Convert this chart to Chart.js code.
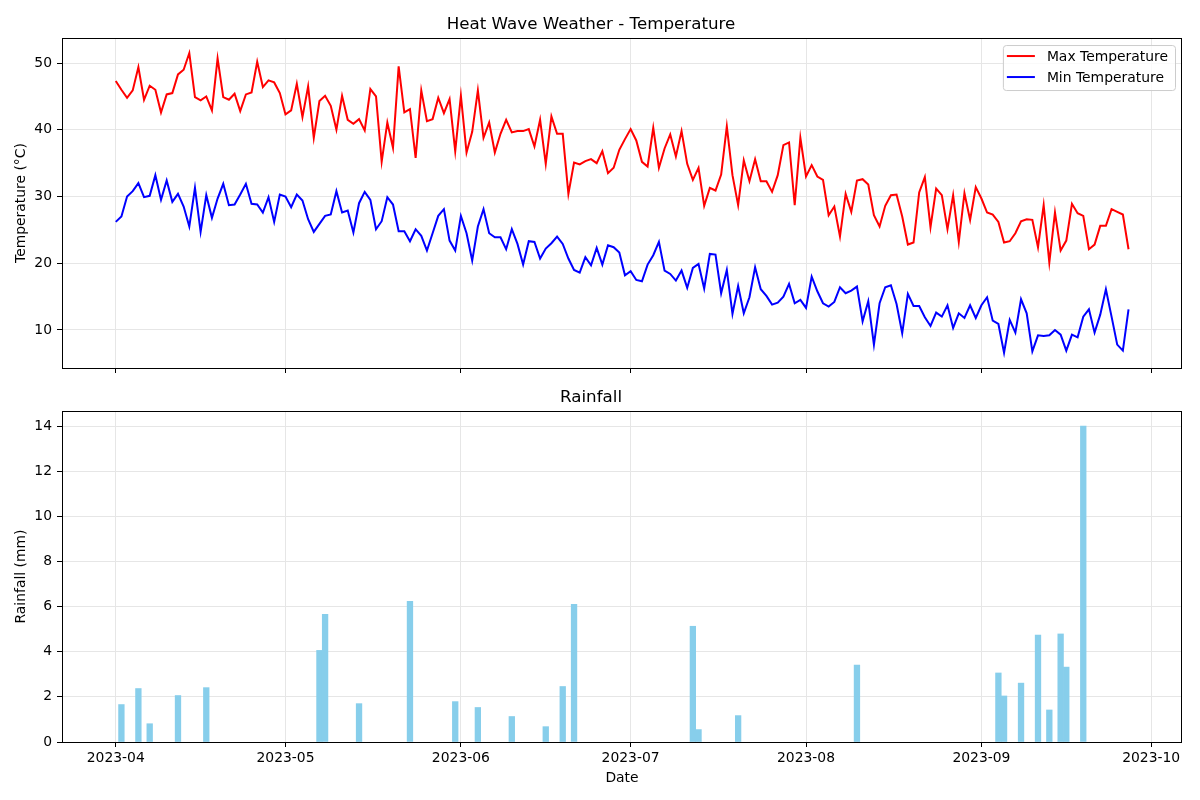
<!DOCTYPE html>
<html>
<head>
<meta charset="utf-8">
<title>Heat Wave Weather</title>
<script src="https://cdn.jsdelivr.net/npm/chart.js@4.4.1/dist/chart.umd.min.js"></script>
<style>
  html, body { margin: 0; padding: 0; background: #fff; }
  #wrap { position: relative; width: 1200px; height: 800px; }
  #tempBox { position: absolute; left: 0; top: 0; width: 1200px; height: 390px; }
  #rainBox { position: absolute; left: 0; top: 380px; width: 1200px; height: 420px; }
</style>
</head>
<body>
<div id="wrap">
  <div id="tempBox"><canvas id="tempChart"></canvas></div>
  <div id="rainBox"><canvas id="rainChart"></canvas></div>
</div>
<script>
// ── Data: one value per day from START_DATE ──────────────────────
const START_DATE = '2023-04-01';

const maxTemp = [
  47.3, 46.0, 44.8, 45.9, 49.4, 44.5, 46.6, 46.0, 42.6, 45.3,
  45.5, 48.3, 49.0, 51.5, 44.9, 44.4, 45.0, 42.9, 50.7, 44.9,
  44.5, 45.4, 42.8, 45.3, 45.6, 50.2, 46.4, 47.4, 47.1, 45.5,
  42.3, 42.9, 46.9, 41.9, 46.5, 38.8, 44.3, 45.1, 43.6, 40.0,
  45.1, 41.5, 40.9, 41.6, 39.9, 46.1, 45.0, 35.2, 41.1, 37.3,
  49.5, 42.6, 43.1, 35.8, 45.9, 41.3, 41.6, 44.8, 42.5, 44.6,
  36.8, 45.1, 36.6, 39.7, 45.9, 38.8, 41.1, 36.6, 39.4, 41.5,
  39.6, 39.8, 39.8, 40.1, 37.5, 41.5, 34.9, 42.0, 39.4, 39.4,
  30.4, 35.1, 34.8, 35.3, 35.6, 35.0, 36.8, 33.5, 34.3, 37.0,
  38.6, 40.1, 38.4, 35.2, 34.5, 40.3, 34.3, 37.2, 39.3, 36.0,
  39.8, 34.9, 32.5, 34.3, 28.6, 31.3, 30.9, 33.3, 40.5, 33.2,
  28.7, 35.4, 32.3, 35.6, 32.3, 32.3, 30.7, 33.2, 37.7, 38.1,
  28.7, 38.8, 33.0, 34.7, 33.0, 32.5, 27.2, 28.5, 24.0, 30.4,
  27.7, 32.4, 32.6, 31.8, 27.2, 25.5, 28.6, 30.2, 30.3, 27.0,
  22.8, 23.1, 30.6, 32.9, 25.4, 31.2, 30.2, 25.1, 30.2, 23.2,
  30.5, 26.5, 31.4, 29.7, 27.6, 27.3, 26.2, 23.1, 23.3, 24.5,
  26.3, 26.6, 26.5, 22.4, 28.7, 20.1, 27.6, 21.9, 23.4, 28.9,
  27.5, 27.1, 22.1, 22.8, 25.6, 25.6, 28.1, 27.7, 27.3, 22.1
];

const minTemp = [
  26.2, 27.0, 30.0, 30.8, 32.0, 29.9, 30.1, 33.2, 29.5, 32.4,
  29.2, 30.4, 28.5, 25.5, 31.3, 24.7, 30.2, 26.8, 29.7, 31.9,
  28.7, 28.8, 30.3, 31.9, 28.9, 28.8, 27.6, 29.9, 26.2, 30.3,
  30.0, 28.4, 30.3, 29.4, 26.6, 24.7, 25.9, 27.1, 27.3, 30.8,
  27.6, 27.9, 24.6, 29.0, 30.7, 29.5, 25.1, 26.3, 29.9, 28.8,
  24.8, 24.8, 23.3, 25.1, 24.1, 21.9, 24.5, 27.1, 28.1, 23.4,
  21.9, 27.1, 24.5, 20.4, 25.5, 28.1, 24.5, 23.9, 23.9, 22.1,
  25.1, 22.9, 19.8, 23.3, 23.2, 20.7, 22.2, 23.0, 24.0, 22.9,
  20.7, 19.0, 18.6, 20.9, 19.7, 22.3, 19.8, 22.7, 22.4, 21.6,
  18.2, 18.8, 17.5, 17.3, 19.8, 21.2, 23.2, 18.9, 18.4, 17.4,
  18.9, 16.3, 19.3, 19.9, 16.2, 21.4, 21.3, 15.5, 19.0, 12.4,
  16.6, 12.5, 14.9, 19.4, 16.1, 15.1, 13.8, 14.1, 15.0, 16.9,
  14.0, 14.5, 13.3, 18.0, 15.8, 14.0, 13.5, 14.2, 16.4, 15.5,
  15.9, 16.5, 11.3, 14.3,  7.8, 14.0, 16.4, 16.7, 13.9,  9.5,
  15.4, 13.6, 13.6, 11.9, 10.6, 12.6, 12.0, 13.7, 10.3, 12.5,
  11.8, 13.7, 11.8, 13.7, 14.9, 11.4, 10.9,  6.6, 11.5,  9.6,
  14.6, 12.5,  6.8,  9.2,  9.1,  9.2, 10.0,  9.3,  6.9,  9.3,
   8.9, 12.0, 13.1,  9.6, 12.3, 16.1, 12.0,  7.8,  6.9, 13.1
];

// Only the days that had rain
const rainDates = [
  '2023-04-02', '2023-04-05', '2023-04-07', '2023-04-12', '2023-04-17',
  '2023-05-07', '2023-05-08', '2023-05-14', '2023-05-23', '2023-05-31',
  '2023-06-04', '2023-06-10', '2023-06-16', '2023-06-19', '2023-06-21',
  '2023-07-12', '2023-07-13', '2023-07-20', '2023-08-10',
  '2023-09-04', '2023-09-05', '2023-09-08', '2023-09-11', '2023-09-13',
  '2023-09-15', '2023-09-16', '2023-09-19'
];
const rainMm = [
  1.66, 2.37, 0.81, 2.06, 2.41,
  4.06, 5.66, 1.70, 6.24, 1.79,
  1.53, 1.13, 0.68, 2.46, 6.10,
  5.13, 0.55, 1.17, 3.41,
  3.06, 2.04, 2.61, 4.74, 1.42,
  4.79, 3.32, 14.0
];

const monthTicks = ['2023-04', '2023-05', '2023-06', '2023-07', '2023-08', '2023-09', '2023-10'];
const tempTicks  = [10, 20, 30, 40, 50];
const rainTicks  = [0, 2, 4, 6, 8, 10, 12, 14];

// ── Helpers ──────────────────────────────────────────────────────
const dayOf = s => (Date.parse(s.length === 7 ? s + '-01' : s) - Date.parse(START_DATE)) / 864e5;
const tickDays = monthTicks.map(dayOf);

const X_MIN = -9.5, X_MAX = 188.45;
const GRID = '#e6e6e6';
const FS = 13.9;

Chart.defaults.font.family = '"DejaVu Sans", sans-serif';
Chart.defaults.font.size = FS;
Chart.defaults.color = '#000';

// full box round the plot area, like matplotlib spines
const framePlugin = {
  id: 'frame',
  afterDraw(chart) {
    const { ctx, chartArea: { left, top, right, bottom } } = chart;
    ctx.save();
    ctx.strokeStyle = '#000';
    ctx.lineWidth = 1;
    ctx.strokeRect(Math.round(left) + 0.5, Math.round(top) + 0.5,
                   Math.round(right - left) - 1, Math.round(bottom - top));
    ctx.restore();
  }
};

// legend box in the upper right corner of the plot area
const boxLegendPlugin = {
  id: 'boxLegend',
  afterDraw(chart) {
    const { ctx, chartArea } = chart;
    const sets = chart.data.datasets;
    ctx.save();
    ctx.font = `${FS}px "DejaVu Sans", sans-serif`;
    const textW = Math.max(...sets.map(d => ctx.measureText(d.label).width));
    const right = chartArea.right - 7;
    const top   = chartArea.top + 7;
    const w = textW + 51;
    const h = 45;
    const left = right - w;
    ctx.beginPath();
    ctx.roundRect(left + 0.5, top + 0.5, w, h, 3);
    ctx.fillStyle = 'rgba(255,255,255,0.8)';
    ctx.fill();
    ctx.strokeStyle = '#cccccc';
    ctx.lineWidth = 1;
    ctx.stroke();
    sets.forEach((d, i) => {
      const y = top + 11 + i * 21;
      ctx.beginPath();
      ctx.moveTo(left + 4, y);
      ctx.lineTo(left + 32, y);
      ctx.strokeStyle = d.borderColor;
      ctx.lineWidth = 2;
      ctx.stroke();
      ctx.fillStyle = '#000';
      ctx.textBaseline = 'middle';
      ctx.textAlign = 'left';
      ctx.fillText(d.label, left + 44, y + 1);
    });
    ctx.restore();
  }
};

function xScale(showLabels) {
  return {
    type: 'linear',
    min: X_MIN,
    max: X_MAX,
    offset: false,
    afterBuildTicks: s => { s.ticks = tickDays.map(v => ({ value: v })); },
    ticks: {
      display: showLabels,
      autoSkip: false,
      maxRotation: 0,
      padding: 3,
      callback: (v, i) => monthTicks[i]
    },
    grid: { color: GRID, lineWidth: 1, offset: false, drawTicks: true, tickLength: 5, tickColor: '#000' },
    border: { display: false },
    title: showLabels
      ? { display: true, text: 'Date', padding: { top: 0, bottom: 13.5 } }
      : { display: false },
    afterFit: s => { s.height = showLabels ? 58 : 22; }
  };
}

function yScale(min, max, ticks, label) {
  return {
    min, max,
    afterBuildTicks: s => { s.ticks = ticks.map(v => ({ value: v })); },
    ticks: { padding: 5 },
    grid: { color: GRID, lineWidth: 1, drawTicks: true, tickLength: 5, tickColor: '#000' },
    border: { display: false },
    title: { display: true, text: label, padding: { top: 13, bottom: 0 } },
    afterFit: s => { s.width = 62; }
  };
}

// ── Temperature lines ────────────────────────────────────────────
new Chart(document.getElementById('tempChart'), {
  type: 'line',
  data: {
    datasets: [
      {
        label: 'Max Temperature',
        data: maxTemp.map((v, i) => ({ x: i, y: v })),
        borderColor: '#ff0000',
        borderWidth: 2,
        pointRadius: 0,
        tension: 0
      },
      {
        label: 'Min Temperature',
        data: minTemp.map((v, i) => ({ x: i, y: v })),
        borderColor: '#0000ff',
        borderWidth: 2,
        pointRadius: 0,
        tension: 0
      }
    ]
  },
  options: {
    responsive: true,
    maintainAspectRatio: false,
    animation: false,
    layout: { padding: { left: 0, right: 18, top: 0, bottom: 0 } },
    plugins: {
      title: {
        display: true,
        text: 'Heat Wave Weather - Temperature',
        font: { size: 16.7, weight: 'normal' },
        color: '#000',
        padding: { top: 14.5, bottom: 3.5 }
      },
      legend: { display: false },
      tooltip: { enabled: false }
    },
    scales: {
      x: xScale(false),
      y: yScale(4.3, 53.75, tempTicks, 'Temperature (°C)')
    }
  },
  plugins: [framePlugin, boxLegendPlugin]
});

// ── Rainfall bars ────────────────────────────────────────────────
new Chart(document.getElementById('rainChart'), {
  type: 'bar',
  data: {
    datasets: [{
      label: 'Rainfall',
      data: rainDates.map((d, i) => ({ x: dayOf(d), y: rainMm[i] })),
      backgroundColor: '#87ceeb',
      borderWidth: 0,
      categoryPercentage: 1.0,
      barPercentage: 1.0
    }]
  },
  options: {
    responsive: true,
    maintainAspectRatio: false,
    animation: false,
    layout: { padding: { left: 0, right: 18, top: 0, bottom: 0 } },
    plugins: {
      title: {
        display: true,
        text: 'Rainfall',
        font: { size: 16.7, weight: 'normal' },
        color: '#000',
        padding: { top: 7.5, bottom: 3.5 }
      },
      legend: { display: false },
      tooltip: { enabled: false }
    },
    scales: {
      x: xScale(true),
      y: yScale(0, 14.67, rainTicks, 'Rainfall (mm)')
    }
  },
  plugins: [framePlugin]
});
</script>
</body>
</html>
